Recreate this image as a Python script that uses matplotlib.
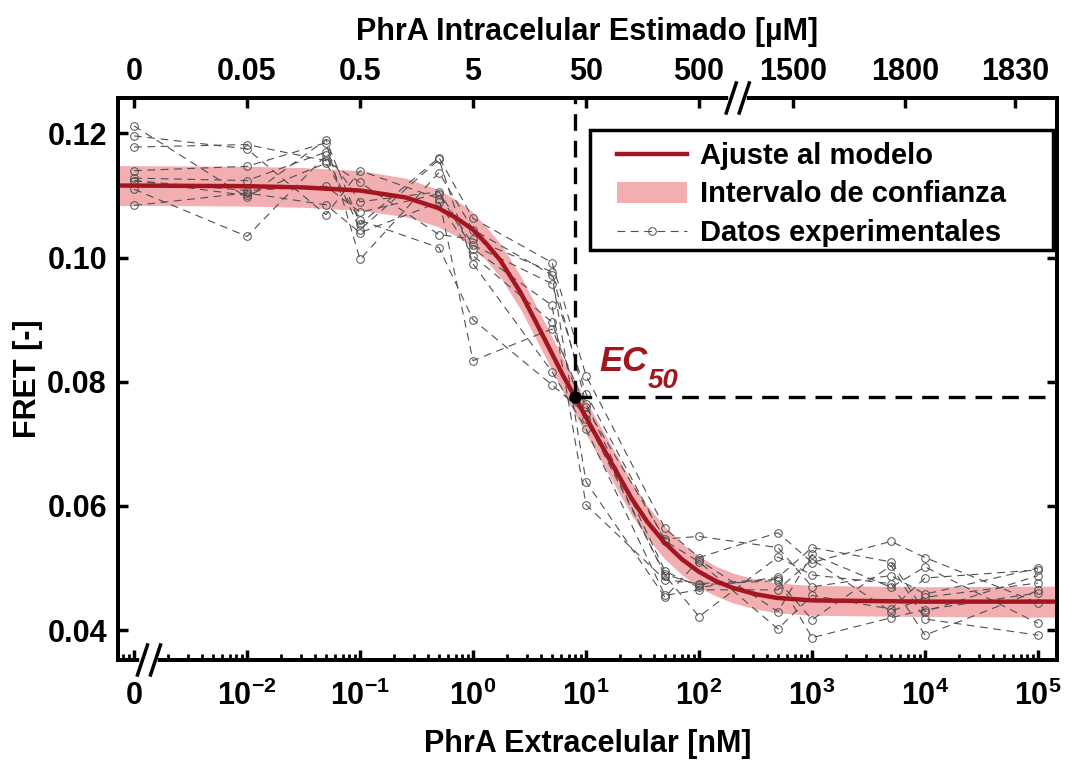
import matplotlib.pyplot as plt
import numpy as np
from matplotlib.lines import Line2D
from matplotlib.patches import Patch, Rectangle

plt.rcParams['font.family'] = ['Liberation Sans', 'DejaVu Sans']
plt.rcParams['font.weight'] = 'bold'
plt.rcParams['mathtext.fontset'] = 'custom'
plt.rcParams['mathtext.rm'] = 'Liberation Sans:bold'
plt.rcParams['mathtext.bf'] = 'Liberation Sans:bold'
plt.rcParams['mathtext.it'] = 'Liberation Sans:bold:italic'

# concentrations (nM); 0 is drawn at the "0" position of the broken axis
conc = np.array([0, 0.01, 0.05, 0.1, 0.5, 1, 5, 10, 50, 100, 500, 1000, 5000, 1e4, 1e5])
zero_pos = 1e-3

# FRET replicates (one row per experiment)
rep1 = [0.1212, 0.1097, 0.1190, 0.1054, 0.1161, 0.1063, 0.0992, 0.0810, 0.0564, 0.0517, 0.0557, 0.0509, 0.0543, 0.0517, 0.0444]
rep2 = [0.1196, 0.1175, 0.1069, 0.1140, 0.1095, 0.0834, 0.0885, 0.0759, 0.0547, 0.0551, 0.0533, 0.0470, 0.0488, 0.0458, 0.0500]
rep3 = [0.1178, 0.1182, 0.1156, 0.1121, 0.1037, 0.1030, 0.0977, 0.0765, 0.0495, 0.0469, 0.0485, 0.0533, 0.0510, 0.0430, 0.0488]
rep4 = [0.1140, 0.1147, 0.1185, 0.0997, 0.1137, 0.1045, 0.0972, 0.0639, 0.0453, 0.0513, 0.0430, 0.0522, 0.0469, 0.0502, 0.0411]
rep5 = [0.1128, 0.1124, 0.1170, 0.1090, 0.1106, 0.1020, 0.0958, 0.0781, 0.0544, 0.0510, 0.0402, 0.0456, 0.0434, 0.0484, 0.0497]
rep6 = [0.1124, 0.1100, 0.1152, 0.1060, 0.1016, 0.0900, 0.0795, 0.0748, 0.0488, 0.0422, 0.0518, 0.0489, 0.0475, 0.0392, 0.0464]
rep7 = [0.1124, 0.1108, 0.1115, 0.1073, 0.1103, 0.1014, 0.0923, 0.0602, 0.0481, 0.0475, 0.0482, 0.0388, 0.0420, 0.0433, 0.0460]
rep8 = [0.1110, 0.1034, 0.1165, 0.1045, 0.1158, 0.0990, 0.0816, 0.0724, 0.0456, 0.0465, 0.0465, 0.0514, 0.0430, 0.0453, 0.0476]
rep9 = [0.1084, 0.1104, 0.1085, 0.1040, 0.1089, 0.1003, 0.0896, 0.0740, 0.0490, 0.0473, 0.0480, 0.0417, 0.0504, 0.0418, 0.0392]
reps = [rep1, rep2, rep3, rep4, rep5, rep6, rep7, rep8, rep9]

# fitted model curve and confidence half-width
curve_logx = [-3.14, -3.0, -2.0, -1.5, -1.0, -0.6, -0.31, -0.15, 0.0, 0.12, 0.24, 0.42, 0.56, 0.70, 0.80, 0.90,
              0.99, 1.1, 1.27, 1.4, 1.54, 1.69, 1.85, 2.0, 2.15, 2.3, 2.5, 2.69, 3.0, 3.5, 4.0, 5.17]
curve_fret = [0.1116, 0.1116, 0.1115, 0.1113, 0.1108, 0.1097, 0.1080, 0.1064, 0.1045, 0.1022, 0.0996, 0.0944, 0.0895,
              0.0845, 0.0809, 0.0776, 0.0746, 0.0710, 0.0655, 0.0613, 0.0575, 0.0542, 0.0514, 0.0494, 0.0479, 0.0468,
              0.0458, 0.0452, 0.0448, 0.0447, 0.0446, 0.0446]
band_half = [0.0032, 0.0032, 0.0032, 0.0032, 0.0032, 0.0031, 0.0030, 0.0029, 0.0028, 0.0027, 0.0027, 0.0027, 0.0027,
             0.0027, 0.0027, 0.0027, 0.0027, 0.0027, 0.0027, 0.0027, 0.0026, 0.0026, 0.0025, 0.0025, 0.0024, 0.0024,
             0.0024, 0.0024, 0.0024, 0.0024, 0.0024, 0.0025]

ec50 = 8.0
ec50_fret = 0.0775

yticks = [0.04, 0.06, 0.08, 0.10, 0.12]
xticks_bottom = [1e-3, 1e-2, 1e-1, 1e0, 1e1, 1e2, 1e3, 1e4, 1e5]
xlabels_bottom = ['0', '$10^{-2}$', '$10^{-1}$', '$10^{0}$', '$10^{1}$', '$10^{2}$', '$10^{3}$', '$10^{4}$', '$10^{5}$']
top_tick_logpos = [-3, -2, -1, 0, 1, 2, 2.832, 3.823, 4.796]
top_tick_labels = ['0', '0.05', '0.5', '5', '50', '500', '1500', '1800', '1830']

red = '#a3151f'
pink = '#f2aeb0'

fig = plt.figure(figsize=(10.65, 7.6), dpi=100)
ax = fig.add_axes([118/1065, 100/760, 939/1065, 562/760])

cx = 10**np.array(curve_logx)
cy = np.array(curve_fret)
hw = np.array(band_half)
ax.fill_between(cx, cy - hw, cy + hw, color=pink, lw=0, zorder=1)

xplot = np.where(conc == 0, zero_pos, conc)
for r in reps:
    ax.plot(xplot, r, ls=(0, (7, 5)), color='#505050', lw=0.8, marker='o', ms=5.5,
            mfc='none', mec='#505050', mew=0.7, zorder=2)

ax.plot(cx, cy, color=red, lw=3.2, zorder=3)

xlim = (10**-3.142, 10**5.168)
ylim = (0.0352, 0.1257)
ax.plot([ec50, ec50], [ec50_fret, ylim[1]], color='k', lw=2.4, ls=(0, (5, 3)), zorder=4)
ax.plot([ec50, xlim[1]], [ec50_fret, ec50_fret], color='k', lw=2.4, ls=(0, (5, 3)), zorder=4)
ax.plot(ec50, ec50_fret, 'o', color='k', ms=8, zorder=5)
ax.text(10**1.12, 0.0818, 'EC', color=red, fontsize=25, fontstyle='italic', fontweight='bold')
ax.text(10**1.55, 0.0790, '50', color=red, fontsize=20, fontstyle='italic', fontweight='bold')

ax.set_xscale('log')
ax.set_xlim(xlim)
ax.set_ylim(ylim)
ax.set_xticks(xticks_bottom)
ax.set_xticklabels(xlabels_bottom)
ax.set_yticks(yticks)
ax.set_yticklabels(['%.2f' % v for v in yticks])
ax.tick_params(which='both', direction='in', top=False, right=True, labelsize=22, pad=8)
ax.tick_params(axis='x', which='both', pad=15)
ax.tick_params(which='major', length=7, width=2.5)
ax.tick_params(which='minor', length=4, width=2)
for s in ax.spines.values():
    s.set_linewidth(2.8)
ax.set_xlabel('PhrA Extracelular [nM]', fontsize=22, fontweight='bold', labelpad=12)
ax.set_ylabel('FRET [-]', fontsize=22, fontweight='bold', labelpad=3)

ax2 = ax.twiny()
ax2.set_xscale('log')
ax2.set_xlim(xlim)
ax2.set_xticks(10**np.array(top_tick_logpos))
ax2.set_xticklabels(top_tick_labels)
ax2.minorticks_off()
ax2.tick_params(direction='in', length=7, width=2.5, labelsize=22, pad=8)
for s in ax2.spines.values():
    s.set_linewidth(2.8)
ax2.set_xlabel('PhrA Intracelular Estimado [µM]', fontsize=22, fontweight='bold', labelpad=12)


def break_mark(axis, xc, yc):
    dx = 5/939
    dy = 15/562
    sep = 13/939
    axis.plot([xc - sep/2, xc + sep/2], [yc, yc], color='w', lw=4,
              transform=axis.transAxes, clip_on=False, zorder=10)
    for off in (-sep/2, sep/2):
        axis.plot([xc + off - dx, xc + off + dx], [yc - dy, yc + dy], color='k', lw=2.5,
                  transform=axis.transAxes, clip_on=False, zorder=11)


break_mark(ax2, 0.033, 0.0)
break_mark(ax2, 0.660, 1.0)

# legend box drawn separately so its padding matches the original
ax2.add_patch(Rectangle((472/939, 410/562), 463/939, 120/562, transform=ax2.transAxes,
                        facecolor='w', edgecolor='k', lw=2.5, zorder=6))
handles = [Line2D([], [], color=red, lw=3.2),
           Patch(facecolor=pink, edgecolor='none'),
           Line2D([], [], ls=(0, (7, 5)), color='#505050', lw=0.8, marker='o', ms=5.5,
                  mfc='none', mec='#505050', mew=0.7)]
labels = ['Ajuste al modelo', 'Intervalo de confianza', 'Datos experimentales']
leg = ax2.legend(handles, labels, loc='upper left', bbox_to_anchor=(499/939, 518/562),
                 fontsize=21, frameon=False, handlelength=2.4, handleheight=0.7, handletextpad=0.45,
                 labelspacing=0.36, borderpad=0, borderaxespad=0)
leg.set_zorder(7)

plt.savefig('out.png', dpi=100)
